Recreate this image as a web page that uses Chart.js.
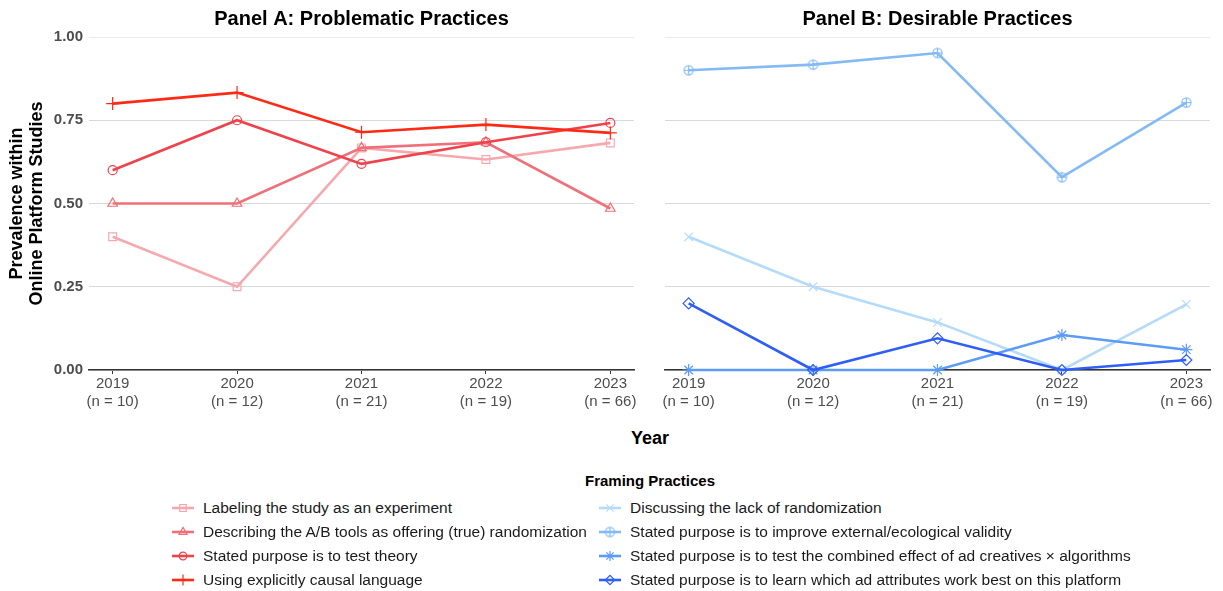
<!DOCTYPE html>
<html lang="en">
<head>
<meta charset="UTF-8">
<title>Framing Practices by Year</title>
<script src="https://cdn.jsdelivr.net/npm/chart.js"></script>
<style>
  body { margin: 0; background: #fff; font-family: "Liberation Sans", Arial, sans-serif; }
  #wrap { position: relative; width: 1223px; height: 591px; overflow: hidden; }
  #wrap canvas.panel { position: absolute; top: 0; }
  #chartA { left: 0; }
  #chartB { left: 620px; }
  #xTitle { position: absolute; left: 0; width: 1300px; top: 428px; text-align: center;
            font-size: 18px; font-weight: bold; color: #000; }
  #legendTitle { position: absolute; left: 0; width: 1300px; top: 472px; text-align: center;
                 font-size: 15px; font-weight: bold; color: #000; }
  .item { position: absolute; height: 20px; display: flex; align-items: center;
          font-size: 15.5px; color: #1a1a1a; white-space: nowrap; }
  .item canvas { margin-right: 9px; }
</style>
</head>
<body>
<div id="wrap">
  <canvas id="chartA" class="panel" width="650" height="420"></canvas>
  <canvas id="chartB" class="panel" width="603" height="420"></canvas>
  <div id="xTitle">Year</div>
  <div id="legendTitle">Framing Practices</div>
  <div id="legend"></div>
</div>
<script>
// data
const years = [2019, 2020, 2021, 2022, 2023];
const sampleSizes = [10, 12, 21, 19, 66];
const yTicks = [0, 0.25, 0.5, 0.75, 1];

const problemNames = [
  'Labeling the study as an experiment',
  'Describing the A/B tools as offering (true) randomization',
  'Stated purpose is to test theory',
  'Using explicitly causal language'
];
const labelingExperiment = [0.40, 0.25, 0.667, 0.632, 0.682];
const describingAB       = [0.50, 0.50, 0.667, 0.684, 0.485];
const testTheory         = [0.60, 0.75, 0.619, 0.684, 0.742];
const causalLanguage     = [0.80, 0.833, 0.714, 0.737, 0.712];

const desirableNames = [
  'Discussing the lack of randomization',
  'Stated purpose is to improve external/ecological validity',
  'Stated purpose is to test the combined effect of ad creatives × algorithms',
  'Stated purpose is to learn which ad attributes work best on this platform'
];
const lackRandomization = [0.40, 0.25, 0.143, 0.0, 0.197];
const externalValidity  = [0.90, 0.917, 0.952, 0.579, 0.803];
const combinedEffect    = [0.0, 0.0, 0.0, 0.105, 0.061];
const learnAttributes   = [0.20, 0.0, 0.095, 0.0, 0.030];

// styles
const redColors  = ['#F5A9AF', '#EF7078', '#EF434B', '#FF2A16'];
const blueColors = ['#B5DBFA', '#84BAF4', '#5C9CF6', '#2F5EF6'];
const FONT = '"Liberation Sans", Arial, sans-serif';

function circlePlus(color) {
  const c = document.createElement('canvas');
  c.width = 13; c.height = 13;
  const g = c.getContext('2d');
  g.strokeStyle = color; g.lineWidth = 1.2;
  g.beginPath(); g.arc(6.5, 6.5, 4.6, 0, Math.PI * 2); g.stroke();
  g.beginPath();
  g.moveTo(6.5, 1.9); g.lineTo(6.5, 11.1);
  g.moveTo(1.9, 6.5); g.lineTo(11.1, 6.5);
  g.stroke();
  return c;
}

const redShapes  = ['rect', 'triangle', 'circle', 'cross'];
const redRadii   = [5.5, 5.5, 4.5, 6.5];
const blueShapes = ['crossRot', circlePlus(blueColors[1]), 'star', 'rectRot'];
const blueRadii  = [6, 5, 6, 5.5];

function makeChart(id, title, names, series, colors, shapes, radii, showY, yWidth, padRight) {
  return new Chart(document.getElementById(id), {
    type: 'line',
    data: {
      datasets: series.map((vals, i) => ({
        label: names[i],
        data: vals.map((v, j) => ({ x: years[j], y: v })),
        borderColor: colors[i],
        backgroundColor: 'rgba(0,0,0,0)',
        borderWidth: 2.6,
        pointStyle: shapes[i],
        pointRadius: radii[i],
        pointBorderWidth: 1.2,
        pointBorderColor: colors[i],
        pointBackgroundColor: 'rgba(0,0,0,0)',
        tension: 0,
        clip: false,
        order: -i
      }))
    },
    options: {
      responsive: false,
      animation: false,
      devicePixelRatio: 1,
      layout: { padding: { left: 0, right: padRight, top: 0, bottom: 0 } },
      plugins: {
        legend: { display: false },
        tooltip: { enabled: false },
        title: {
          display: true, text: title, fullSize: false, color: '#000',
          font: { family: FONT, size: 20, weight: 'bold', lineHeight: '24px' },
          padding: { top: 7, bottom: 6 }
        }
      },
      scales: {
        x: {
          type: 'linear', min: 2018.81, max: 2023.19,
          afterBuildTicks: s => { s.ticks = years.map(v => ({ value: v })); },
          afterFit: s => { s.height = 50; s.paddingLeft = 0; s.paddingRight = 0; },
          grid: { drawOnChartArea: false, drawTicks: true, tickLength: 4, tickColor: '#333', tickWidth: 1 },
          border: { display: true, color: '#333', width: 1.6 },
          ticks: {
            padding: 0, color: '#4D4D4D', maxRotation: 0, autoSkip: false,
            font: { family: FONT, size: 15, lineHeight: 1.25 },
            callback: v => [String(v), '(n = ' + sampleSizes[years.indexOf(v)] + ')']
          }
        },
        y: {
          min: 0, max: 1,
          afterBuildTicks: s => { s.ticks = yTicks.map(v => ({ value: v })); },
          afterFit: s => { s.width = yWidth; s.paddingTop = 0; s.paddingBottom = 0; },
          grid: {
            color: c => (c.tick && c.tick.value === 1) ? '#EBEBEB' : '#D9D9D9',
            lineWidth: 1, drawTicks: false
          },
          border: { display: false },
          ticks: {
            display: showY, padding: 6, color: '#4D4D4D',
            font: { family: FONT, size: 15, weight: 'bold' },
            callback: v => Number(v).toFixed(2)
          },
          title: {
            display: showY, color: '#000',
            text: ['Prevalence within', 'Online Platform Studies'],
            font: { family: FONT, size: 18, weight: 'bold', lineHeight: 1.12 },
            padding: { top: 7, bottom: 0 }
          }
        }
      }
    }
  });
}

makeChart('chartA', 'Panel A: Problematic Practices', problemNames,
  [labelingExperiment, describingAB, testTheory, causalLanguage],
  redColors, redShapes, redRadii, true, 89, 16);

makeChart('chartB', 'Panel B: Desirable Practices', desirableNames,
  [lackRandomization, externalValidity, combinedEffect, learnAttributes],
  blueColors, blueShapes, blueRadii, false, 45, 13);

// legend
function legendKey(color, shape, radius) {
  const c = document.createElement('canvas');
  c.width = 22; c.height = 16;
  const g = c.getContext('2d');
  g.strokeStyle = color; g.lineWidth = 2.6;
  g.beginPath(); g.moveTo(0, 8); g.lineTo(22, 8); g.stroke();
  g.lineWidth = 1.2;
  g.fillStyle = 'rgba(0,0,0,0)';
  if (Chart.helpers && Chart.helpers.drawPoint) {
    Chart.helpers.drawPoint(g, { pointStyle: shape, radius: radius, borderWidth: 1.2, rotation: 0 }, 11, 8);
  }
  return c;
}

const legend = document.getElementById('legend');
function addColumn(names, colors, shapes, radii, left) {
  names.forEach((name, i) => {
    const row = document.createElement('div');
    row.className = 'item';
    row.style.left = left + 'px';
    row.style.top = (498 + i * 24) + 'px';
    row.appendChild(legendKey(colors[i], shapes[i], radii[i] * 0.85));
    const span = document.createElement('span');
    span.textContent = name;
    row.appendChild(span);
    legend.appendChild(row);
  });
}
addColumn(problemNames, redColors, redShapes, redRadii, 172);
addColumn(desirableNames, blueColors, blueShapes, blueRadii, 599);
</script>
</body>
</html>
